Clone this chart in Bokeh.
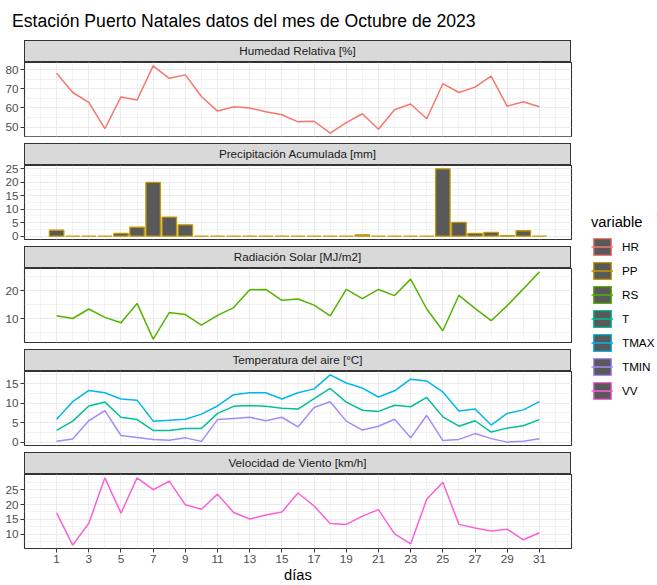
from bokeh.plotting import figure
from bokeh.models import Range1d, FixedTicker, Div, Spacer, Legend, LegendItem
from bokeh.layouts import column, row
from bokeh.embed import file_html
from bokeh.resources import INLINE

# ---------------- data ----------------
days = list(range(1, 32))
HR = [78.1, 68.0, 62.9, 49.1, 65.7, 64.1, 81.9, 75.4, 77.2, 65.9, 58.3, 60.6, 59.9, 58.0, 56.4, 52.7,
      53.0, 46.8, 52.3, 56.9, 48.8, 59.0, 62.0, 54.3, 72.6, 68.0, 70.8, 76.5, 60.8, 63.2, 60.6]
PP = [2.2, 0.0, 0.0, 0.0, 1.0, 3.3, 20.0, 7.1, 4.2, 0.0, 0.0, 0.0, 0.0, 0.0, 0.0, 0.0,
      0.0, 0.0, 0.0, 0.5, 0.0, 0.0, 0.0, 0.0, 25.0, 5.1, 1.0, 1.4, 0.2, 2.0, 0.0]
RS = [11.1, 10.1, 13.5, 10.5, 8.6, 15.5, 2.7, 12.2, 11.5, 7.7, 11.2, 14.0, 20.4, 20.5, 16.6, 17.1,
      14.9, 11.0, 20.5, 17.2, 20.5, 18.3, 24.2, 13.5, 5.7, 18.4, 13.7, 9.3, 14.7, 20.7, 26.8]
T = [3.0, 5.4, 9.3, 10.3, 6.4, 5.8, 3.0, 3.0, 3.5, 3.5, 7.4, 9.2, 9.4, 9.2, 8.7, 8.5,
     11.2, 13.8, 10.3, 8.2, 7.9, 9.5, 9.1, 11.5, 6.5, 4.1, 5.5, 2.6, 3.6, 4.2, 5.8]
TMAX = [5.9, 10.4, 13.3, 12.7, 11.1, 10.8, 5.4, 5.6, 5.9, 7.2, 9.3, 12.2, 12.7, 12.7, 11.1, 12.7,
        13.7, 17.3, 15.2, 13.9, 11.6, 13.2, 16.2, 15.7, 12.9, 8.0, 8.5, 4.4, 7.4, 8.3, 10.4]
TMIN = [0.2, 0.8, 5.5, 8.1, 1.7, 1.2, 0.7, 0.5, 1.1, 0.2, 5.8, 6.1, 6.4, 5.5, 6.4, 3.9,
        8.9, 10.4, 5.4, 3.1, 4.1, 5.9, 1.1, 6.9, 0.4, 0.7, 2.2, 0.9, 0.0, 0.2, 0.9]
VV = [17.2, 6.3, 13.7, 29.0, 17.1, 29.0, 25.0, 27.9, 19.9, 18.4, 23.5, 17.3, 15.1, 16.5, 17.5, 23.9,
      19.5, 13.6, 13.3, 16.1, 18.3, 10.1, 6.7, 21.8, 27.5, 13.3, 12.1, 11.1, 11.7, 8.1, 10.5]

variables = ["HR", "PP", "RS", "T", "TMAX", "TMIN", "VV"]
palette = ["#F8766D", "#C49A00", "#53B400", "#00C094", "#00B6EB", "#A58AFF", "#FB61D7"]
COL = dict(zip(variables, palette))

strip_titles = ["Humedad Relativa [%]", "Precipitación Acumulada [mm]", "Radiación Solar [MJ/m2]",
                "Temperatura del aire [°C]", "Velocidad de Viento [km/h]"]
main_title = "Estación Puerto Natales datos del mes de Octubre de 2023"
x_label = "días"

x_ticks = list(range(1, 32, 2))
x_minor = list(range(0, 33, 2))
hr_ticks, hr_minor = [50, 60, 70, 80], [45, 55, 65, 75]
pp_ticks, pp_minor = [0, 5, 10, 15, 20, 25], [2.5, 7.5, 12.5, 17.5, 22.5]
rs_ticks, rs_minor = [10, 20], [5, 15, 25]
t_ticks, t_minor = [0, 5, 10, 15], [2.5, 7.5, 12.5, 17.5]
vv_ticks, vv_minor = [10, 15, 20, 25], [7.5, 12.5, 17.5, 22.5, 27.5]

# ---------------- style ----------------
FONT = "Liberation Sans"
LEFT = 24
FRAME_W = 547
RIGHT = 2
FRAME_H = 74
STRIP_H = 22
GAP = 7
TOP_PAD = 7
TITLE_H = 40
BAR_W = 0.9
LEG_W = 84


def expanded(values, include_zero=False):
    lo, hi = min(values), max(values)
    if include_zero:
        lo = min(lo, 0)
    pad = 0.05 * (hi - lo)
    return Range1d(lo - pad, hi + pad)


x_lo, x_hi = min(days) - BAR_W / 2, max(days) + BAR_W / 2
x_pad = 0.05 * (x_hi - x_lo)


def strip(text):
    html = (f'<div style="width:{FRAME_W}px;height:{STRIP_H}px;margin-left:{LEFT}px;'
            f'box-sizing:border-box;background:#D9D9D9;border:1px solid #333333;'
            f'text-align:center;font-family:\'{FONT}\';font-size:11.7px;'
            f'line-height:{STRIP_H - 2}px;color:#1A1A1A;white-space:nowrap;">{text}</div>')
    # the panel below overlaps this strip by TOP_PAD px (its transparent top border)
    return Div(text=html, width=LEFT + FRAME_W + RIGHT, height=STRIP_H,
               margin=(0, 0, -TOP_PAD, 0))


def panel(y_range, yt, ym, bottom=False):
    p = figure(frame_width=FRAME_W, frame_height=FRAME_H,
               x_range=Range1d(x_lo - x_pad, x_hi + x_pad), y_range=y_range,
               toolbar_location=None, output_backend="svg", title=None,
               x_axis_location="below" if bottom else None,
               min_border_left=LEFT, min_border_right=RIGHT, min_border_top=TOP_PAD,
               min_border_bottom=0 if bottom else GAP)
    p.background_fill_color = "white"
    p.border_fill_alpha = 0
    p.outline_line_color = "#333333"
    p.outline_line_width = 1.1
    p.xgrid.ticker = FixedTicker(ticks=x_ticks, minor_ticks=x_minor)
    p.yaxis.ticker = FixedTicker(ticks=yt, minor_ticks=ym)
    for g in (p.xgrid, p.ygrid):
        g.grid_line_color = "#EBEBEB"
        g.grid_line_width = 1.1
        g.minor_grid_line_color = "#EBEBEB"
        g.minor_grid_line_width = 0.6
    axes = [p.yaxis[0]] + ([p.xaxis[0]] if bottom else [])
    for ax in axes:
        ax.axis_line_color = None
        ax.major_tick_line_color = "#333333"
        ax.major_tick_out = 4
        ax.major_tick_in = 0
        ax.minor_tick_line_color = None
        ax.major_label_text_font = FONT
        ax.major_label_text_font_size = "11.7px"
        ax.major_label_text_color = "#4D4D4D"
        ax.major_label_standoff = 2
    if bottom:
        p.xaxis.ticker = FixedTicker(ticks=x_ticks)
        p.xaxis.axis_label = x_label
        p.xaxis.axis_label_text_font = FONT
        p.xaxis.axis_label_text_font_size = "14.7px"
        p.xaxis.axis_label_text_font_style = "normal"
        p.xaxis.axis_label_text_color = "black"
        p.xaxis.axis_label_standoff = 1
    return p


# ---------------- panels ----------------
p1 = panel(expanded(HR), hr_ticks, hr_minor)
p1.line(days, HR, line_color=COL["HR"], line_width=1.5)

p2 = panel(expanded(PP, include_zero=True), pp_ticks, pp_minor)
p2.vbar(x=days, top=PP, bottom=0, width=BAR_W, fill_color="#595959",
        line_color=COL["PP"], line_width=1.3)

p3 = panel(expanded(RS), rs_ticks, rs_minor)
p3.line(days, RS, line_color=COL["RS"], line_width=1.5)

p4 = panel(expanded(T + TMAX + TMIN), t_ticks, t_minor)
p4.line(days, T, line_color=COL["T"], line_width=1.5)
p4.line(days, TMAX, line_color=COL["TMAX"], line_width=1.5)
p4.line(days, TMIN, line_color=COL["TMIN"], line_width=1.5)

p5 = panel(expanded(VV), vv_ticks, vv_minor, bottom=True)
p5.line(days, VV, line_color=COL["VV"], line_width=1.5)

title_div = Div(text=(f'<div style="font-family:\'{FONT}\';font-size:17.6px;color:#000000;'
                      f'padding-left:12px;padding-top:11px;line-height:20px;'
                      f'white-space:nowrap;">{main_title}</div>'),
                width=LEFT + FRAME_W + RIGHT, height=TITLE_H, margin=0)

left_items = [title_div]
for s, p in zip(strip_titles, [p1, p2, p3, p4, p5]):
    left_items += [strip(s), p]
left_col = column(*left_items, spacing=0)

# ---------------- legend ----------------
lg = figure(width=LEG_W, height=190, x_range=Range1d(0, 1), y_range=Range1d(0, 1),
            toolbar_location=None, output_backend="svg", title=None,
            x_axis_location=None, y_axis_location=None,
            min_border_left=18, min_border_right=0, min_border_top=0, min_border_bottom=0)
lg.outline_line_color = None
lg.xgrid.visible = False
lg.ygrid.visible = False
items = []
for v in variables:
    # keys only: their data sit outside the visible range of this legend-only figure
    rb = lg.vbar(x=[5], top=[6], bottom=[5], width=BAR_W, fill_color="#595959",
                 line_color=COL[v], line_width=1.3)
    rl = lg.line(x=[5, 6], y=[5, 5], line_color=COL[v], line_width=1.5)
    items.append(LegendItem(label=v, renderers=[rb, rl]))
legend = Legend(items=items, location="top_left", title="variable",
                title_text_font=FONT, title_text_font_size="14.7px", title_text_font_style="normal",
                title_text_color="black", title_standoff=6,
                label_text_font=FONT, label_text_font_size="11.7px", label_text_color="black",
                glyph_width=22, glyph_height=21, spacing=3, label_standoff=9,
                padding=0, margin=0, border_line_color=None, background_fill_alpha=0)
lg.add_layout(legend)

right_col = column(Spacer(height=214, width=LEG_W), lg, spacing=0)

layout = row(left_col, right_col, spacing=0)

open("out.html", "w").write(file_html(layout, INLINE))
